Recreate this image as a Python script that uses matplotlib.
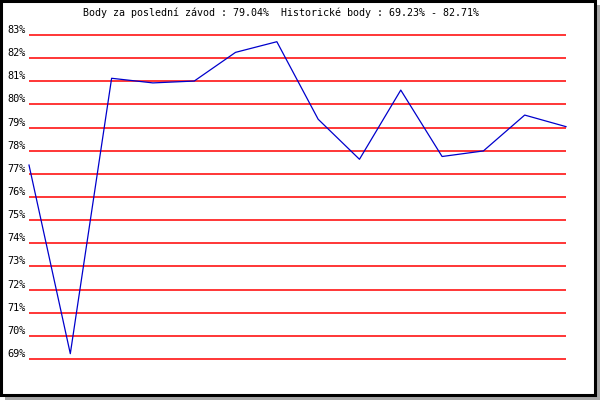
import matplotlib
matplotlib.use("Agg")
import matplotlib.pyplot as plt
from matplotlib.patches import Rectangle
import matplotlib.transforms as mtransforms

# Data
races = list(range(1, 15))
points = [77.38, 69.23, 81.13, 80.93, 81.01, 82.25, 82.71, 79.36, 77.63, 80.62,
          77.75, 77.99, 79.54, 79.04]
yticks = list(range(69, 84))
ytick_labels = [f"{v}%" for v in yticks]
title = "Body za poslední závod : 79.04%  Historické body : 69.23% - 82.71%"

W, H = 600, 400
fig = plt.figure(figsize=(W / 100, H / 100), dpi=100)
fig.patch.set_facecolor("white")

def px(x, y, w, h):
    # pixel box with top-left origin -> figure fraction
    return (x / W, 1 - (y + h) / H, w / W, h / H)

# shadow
bx, by, bw, bh = px(5, 5, 595, 395)
fig.patches.append(Rectangle((bx, by), bw, bh, transform=fig.transFigure,
                             facecolor="#a8a8a8", edgecolor="none", zorder=0))
# frame
bx, by, bw, bh = px(1, 1, 594, 394)
fig.patches.append(Rectangle((bx, by), bw, bh, transform=fig.transFigure,
                             facecolor="white", edgecolor="black", linewidth=2.2, zorder=1))

left, right = 29, 566
top, bottom = 35, 359
pad = 0.1  # y-units of extra room so outer gridlines are not clipped
ppu = (bottom - top) / (yticks[-1] - yticks[0])
t2, b2 = top - pad * ppu, bottom + pad * ppu
ax = fig.add_axes([left / W, 1 - b2 / H, (right - left) / W, (b2 - t2) / H])
ax.set_facecolor("none")
ax.set_zorder(2)
ax.set_xlim(races[0], races[-1])
ax.set_ylim(yticks[0] - pad, yticks[-1] + pad)
for s in ax.spines.values():
    s.set_visible(False)
ax.set_xticks([])
ax.set_yticks(yticks)
ax.set_yticklabels([])
ax.tick_params(axis="y", length=0)
ax.yaxis.grid(True, color="#ff0000", linewidth=1.1)
ax.set_axisbelow(True)

offset = mtransforms.ScaledTranslation(-3 / 100, 2 / 100, fig.dpi_scale_trans)
for v, lab in zip(yticks, ytick_labels):
    ax.text(0, v, lab, transform=ax.get_yaxis_transform() + offset,
            ha="right", va="baseline", fontsize=7.4, family="DejaVu Sans Mono", color="black")

ax.plot(races, points, color="#0000cc", linewidth=0.9, clip_on=False, zorder=3)

fig.text(83 / W, 1 - 13 / H, title, ha="left", va="center",
         fontsize=7.2, family="DejaVu Sans Mono", color="black")

fig.savefig("out.png", dpi=100)
